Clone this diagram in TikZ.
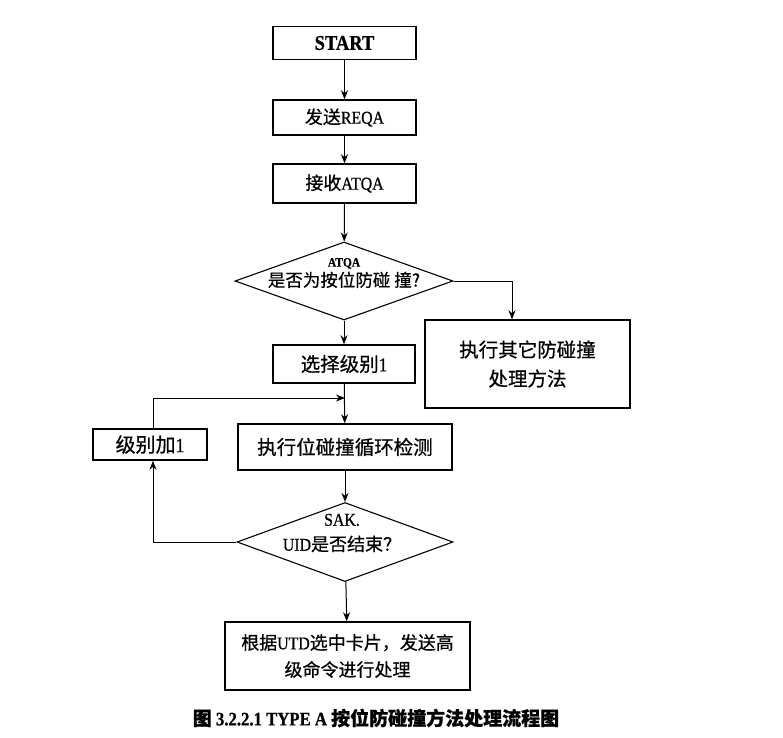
\documentclass[tikz,border=0pt]{standalone}
\usepackage{fontspec}
\setmainfont{Liberation Serif}[FakeStretch=0.88, FakeBold=0.7]
\newfontfamily\cjk{Noto Sans CJK SC}[FakeBold=0.6]
\newcommand\zh[1]{{\cjk #1}}
\usetikzlibrary{shapes.geometric,arrows.meta}
\begin{document}
\begin{tikzpicture}[x=1pt,y=-1pt,
  box/.style={draw, line width=1.5pt, rectangle, inner sep=0pt, align=center, font=\fontsize{18}{27}\selectfont},
  big/.style={font=\fontsize{19.5}{29}\selectfont},
  dec/.style={draw, line width=1.1pt, diamond, inner sep=0pt},
  txt/.style={inner sep=0pt, align=center},
  arr/.style={line width=1pt, -{Stealth[length=9pt,width=7pt]}}]
\useasboundingbox (0,0) rectangle (783,737);

\node[box, minimum width=143pt, minimum height=33pt, font=\fontsize{21}{25}\selectfont\bfseries] (start) at (344.5,43) {START};
\node[box, minimum width=143pt, minimum height=35pt] (reqa) at (344.5,117.5) {\zh{发送}REQA};
\node[box, minimum width=143pt, minimum height=39pt] (atqa) at (344.5,183.5) {\zh{接收}ATQA};
\node[dec, minimum width=218pt, minimum height=78pt] (d1) at (344,281) {};
\node[txt] (d1t) at (344,273) {{\fontsize{13}{20}\selectfont\bfseries ATQA}\\[2pt]{\fontsize{17.5}{20}\selectfont\zh{是否为按位防碰 撞?}}};
\node[box, big, minimum width=142pt, minimum height=38pt] (sel) at (344,364) {\zh{选择级别}1};
\node[box, big, minimum width=205pt, minimum height=88pt] (other) at (527.5,364) {\zh{执行其它防碰撞}\\\zh{处理方法}};
\node[box, big, minimum width=214pt, minimum height=46pt] (exec) at (345,447) {\zh{执行位碰撞循环检测}};
\node[box, minimum width=114pt, minimum height=31pt, font=\fontsize{20}{25}\selectfont] (inc) at (150,444.5) {\zh{级别加}1};
\node[dec, minimum width=216pt, minimum height=79pt] (d2) at (345,542) {};
\node[txt, font=\fontsize{18}{25}\selectfont] (d2t) at (342,533) {SAK.\\UID\zh{是否结束？}};
\node[box, minimum width=245pt, minimum height=68pt] (final) at (347.5,656) {\zh{根据}UTD\zh{选中卡片，发送高}\\\zh{级命令进行处理}};
\node[txt, font=\fontsize{19}{22}\selectfont\bfseries] (cap) at (376,718) {\zh{图} 3.2.2.1 TYPE A \zh{按位防碰撞方法处理流程图}};

\coordinate (jn) at (345,398);
\draw[arr] (start) -- (reqa);
\draw[arr] (reqa) -- (atqa);
\draw[arr] (atqa) -- (d1);
\draw[arr] (d1) -- (sel);
\draw[arr] (d1.east) -| ([xshift=-15.5pt]other.north);
\draw[arr] (sel) -- (exec);
\draw[arr] ([xshift=3pt]inc.north) |- (jn);
\draw[arr] (exec) -- (d2);
\draw[arr] (d2.west) -| ([xshift=3pt]inc.south);
\draw[arr] (d2) -- (final);
\end{tikzpicture}
\end{document}
